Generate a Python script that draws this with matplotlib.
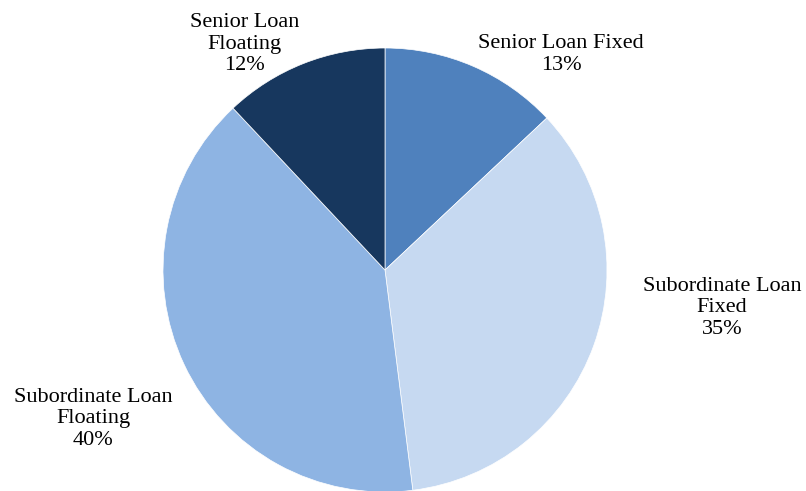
import matplotlib
matplotlib.use("Agg")
import matplotlib.pyplot as plt

categories = ["Senior Loan Fixed", "Subordinate Loan\nFixed", "Subordinate Loan\nFloating", "Senior Loan\nFloating"]
values = [13, 35, 40, 12]
colors = ["#4F81BD", "#C6D9F1", "#8EB4E3", "#17375E"]
label_pos = [(0.793, 0.971), (1.518, -0.171), (-1.315, -0.671), (-0.633, 1.018)]

plt.rcParams['font.family'] = ['Liberation Serif', 'DejaVu Serif']

fig = plt.figure(figsize=(8.06, 4.91), dpi=100)
ax = fig.add_axes([0, 0, 1, 1])
ax.pie(values, colors=colors, startangle=90, counterclock=False, radius=1.0,
       wedgeprops=dict(edgecolor="white", linewidth=0.5))
R = 222.0
cx, cy = 385.0, 270.0
ax.set_xlim(-cx / R, (806 - cx) / R)
ax.set_ylim(-(491 - cy) / R, cy / R)
ax.set_aspect('equal', adjustable='box')
ax.axis('off')
for cat, v, (x, y) in zip(categories, values, label_pos):
    ax.text(x, y, f"{cat}\n{v}%", ha='center', va='center', fontsize=16,
            linespacing=1.2, color='black')
fig.savefig("out.png", dpi=100)
